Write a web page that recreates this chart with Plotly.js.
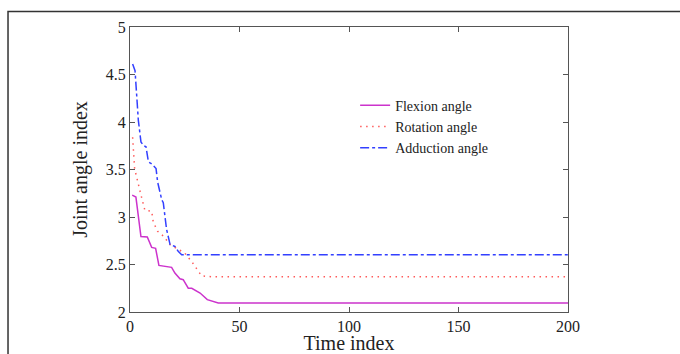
<!DOCTYPE html>
<html>
<head>
<meta charset="utf-8">
<script src="https://cdn.plot.ly/plotly-3.0.1.min.js"></script>
<style>html,body{margin:0;padding:0;background:#fff;}#chart{width:680px;height:354px;}</style>
</head>
<body>
<div id="chart"></div>
<script>
// Flexion angle (solid magenta)
const flexX = [1, 2.7, 5, 7.9, 9.9, 11.7, 13.2, 16.3, 19, 20.5, 22.8, 24.3, 26.6, 28.2, 32, 35.3, 40.3, 200];
const flexY = [3.23, 3.21, 2.795, 2.79, 2.68, 2.67, 2.49, 2.48, 2.47, 2.41, 2.35, 2.34, 2.25, 2.25, 2.2, 2.13, 2.095, 2.095];
// Rotation angle (dotted red)
const rotX = [1.2, 2.1, 4.6, 6.8, 9.9, 10.6, 12.6, 15.2, 18.3, 22, 25, 28.2, 30.4, 32.7, 38, 200];
const rotY = [3.84, 3.51, 3.27, 3.07, 3.06, 2.95, 2.85, 2.8, 2.71, 2.66, 2.62, 2.53, 2.46, 2.38, 2.37, 2.37];
// Adduction angle (dash-dot blue)
const addX = [1.2, 2.3, 3.0, 3.8, 5, 6.2, 7.3, 8.4, 9.9, 11.9, 12.6, 14.5, 15.2, 16.7, 18.3, 20.5, 22, 23.6, 200];
const addY = [4.61, 4.54, 4.3, 4.02, 3.79, 3.75, 3.74, 3.58, 3.56, 3.51, 3.37, 3.18, 3.15, 2.87, 2.71, 2.69, 2.64, 2.603, 2.603];

const names = ["Flexion angle", "Rotation angle", "Adduction angle"];
const xTicks = [0, 50, 100, 150, 200];
const yTicks = [2, 2.5, 3, 3.5, 4, 4.5, 5];
const yTickText = ["2", "2.5", "3", "3.5", "4", "4.5", "5"];

const serif = "Liberation Serif, Times New Roman, serif";

const traces = [
  {x: flexX, y: flexY, name: names[0], mode: "lines", line: {color: "#cc33cc", width: 1.5, dash: "solid"}},
  {x: rotX, y: rotY, name: names[1], mode: "lines", line: {color: "#ff5a5a", width: 1.5, dash: "1.5px,4.5px"}},
  {x: addX, y: addY, name: names[2], mode: "lines", line: {color: "#3340ff", width: 1.5, dash: "dashdot"}}
];

const axisCommon = {
  showline: true, linecolor: "#555", linewidth: 1, mirror: "ticks",
  ticks: "inside", ticklen: 5, tickcolor: "#555", tickwidth: 1,
  showgrid: false, zeroline: false,
  tickfont: {family: serif, size: 16, color: "#222"}
};

const layout = {
  width: 680, height: 354,
  margin: {l: 130, r: 112, t: 26.5, b: 41.5},
  paper_bgcolor: "#fff", plot_bgcolor: "#fff",
  showlegend: true,
  legend: {x: 0.514, y: 0.78, xanchor: "left", yanchor: "top", bgcolor: "rgba(0,0,0,0)", borderwidth: 0,
           font: {family: serif, size: 14, color: "#222"}, tracegroupgap: 0},
  xaxis: Object.assign({}, axisCommon, {
    range: [0, 200], tickvals: xTicks, ticktext: xTicks.map(String),
    title: {text: "Time index", font: {family: serif, size: 20, color: "#222"}, standoff: 5}
  }),
  yaxis: Object.assign({}, axisCommon, {
    range: [2, 5], tickvals: yTicks, ticktext: yTickText,
    title: {text: "Joint angle index", font: {family: serif, size: 20, color: "#222"}, standoff: 12}
  }),
  shapes: [{
    type: "rect", xref: "paper", yref: "paper",
    x0: -0.2785, x1: 1.5, y0: -0.3, y1: 1.054,
    line: {color: "#333", width: 1.5}, layer: "below"
  }]
};

Plotly.newPlot("chart", traces, layout, {displayModeBar: false, staticPlot: true});
</script>
</body>
</html>
